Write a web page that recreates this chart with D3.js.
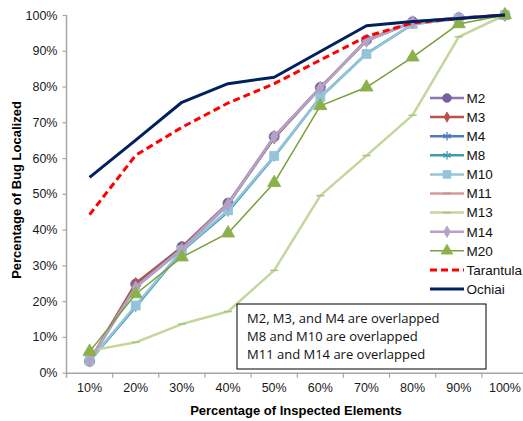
<!DOCTYPE html>
<html>
<head>
<meta charset="utf-8">
<script src="https://cdn.jsdelivr.net/npm/d3@7"></script>
<style>
  body { margin: 0; background: #fff; }
  text { font-family: "Liberation Sans", Arial, sans-serif; }
</style>
</head>
<body>
<div id="chart"></div>
<script>
// Categories on the x axis
const categories = ["10%", "20%", "30%", "40%", "50%", "60%", "70%", "80%", "90%", "100%"];

// Series values (percentage of bug localized)
const m2  = [3.2, 24.8, 35.2, 47.4, 66.0, 79.8, 93.0, 98.1, 99.2, 100];
const m3  = [3.4, 25.0, 35.0, 47.2, 65.6, 79.6, 92.8, 98.0, 99.1, 100];
const m4  = [3.3, 24.2, 34.8, 47.0, 65.8, 79.6, 93.0, 98.0, 99.2, 100];
const m8  = [3.3, 18.4, 34.0, 45.0, 60.4, 77.0, 89.2, 97.4, 99.0, 100];
const m10 = [3.4, 18.8, 34.2, 45.4, 60.6, 77.0, 89.1, 97.5, 99.0, 100];
const m11 = [3.4, 24.0, 34.6, 47.2, 66.0, 79.6, 93.0, 98.0, 99.1, 100];
const m13 = [6.1, 8.5, 13.6, 17.1, 28.6, 49.5, 60.7, 72.0, 93.9, 100];
const m14 = [3.4, 23.8, 34.4, 47.0, 66.0, 79.6, 92.8, 98.0, 99.1, 100];
const m20 = [5.9, 22.0, 32.3, 39.0, 53.1, 74.6, 79.8, 88.2, 97.5, 100];
const tarantula = [44.2, 60.8, 68.6, 75.4, 80.8, 87.4, 94.0, 97.8, 99.0, 100];
const ochiai    = [54.6, 65.0, 75.6, 80.8, 82.6, 89.8, 97.0, 98.2, 99.0, 100];

// Y tick values
const yTicks = [0, 10, 20, 30, 40, 50, 60, 70, 80, 90, 100];

// Note box lines
const notes = ["M2, M3, and M4 are overlapped", "M8 and M10 are overlapped", "M11 and M14 are overlapped"];

// series styling (drawn in this order, later on top)
const series = [
  {name: "M2",  values: m2,  line: "#8a77ad", marker: "circle",   mcolor: "#7a5f9e", width: 2.5, msize: 80},
  {name: "M3",  values: m3,  line: "#b8524f", marker: "diamond",  mcolor: "#b8524f", width: 2.5, msize: 40},
  {name: "M4",  values: m4,  line: "#4f7cb8", marker: "asterisk", mcolor: "#4f7cb8", width: 2.5, msize: 65},
  {name: "M8",  values: m8,  line: "#3f9ab2", marker: "asterisk", mcolor: "#3f9ab2", width: 2.5, msize: 65},
  {name: "M10", values: m10, line: "#93c4da", marker: "square",   mcolor: "#93c4da", width: 2.5, msize: 80},
  {name: "M11", values: m11, line: "#d99a98", marker: "dash",     mcolor: "#d08a88", width: 2.5, msize: 0},
  {name: "M13", values: m13, line: "#c3d69b", marker: "dash",     mcolor: "#a9c47a", width: 2.5, msize: 0},
  {name: "M14", values: m14, line: "#b3a2c7", marker: "diamond",  mcolor: "#b3a2c7", width: 2.5, msize: 50},
  {name: "M20", values: m20, line: "#77a03a", marker: "triangle", mcolor: "#8cb04a", width: 1.5, msize: 75},
  {name: "Tarantula", values: tarantula, line: "#ff0000", marker: "none", dash: "7,4", width: 3, msize: 0},
  {name: "Ochiai",    values: ochiai,    line: "#002060", marker: "none", width: 3, msize: 0}
];

const width = 523, height = 421;
const padding = {top: 15, right: -5, bottom: 48, left: 66.5};

const svg = d3.select("#chart").append("svg")
    .attr("width", width)
    .attr("height", height);

const xScale = d3.scaleBand()
    .domain(categories)
    .range([padding.left, width - padding.right]);

const yScale = d3.scaleLinear()
    .domain([0, 100])
    .range([height - padding.bottom - 0.3, padding.top]);

const cx = d => xScale(d) + xScale.bandwidth() / 2;
const axisColor = "#a6a6a6";

// Y axis
const yAxis = svg.append("g")
    .attr("transform", "translate(" + padding.left + ",0)")
    .call(d3.axisLeft(yScale).tickValues(yTicks).tickSize(4).tickPadding(5).tickFormat(d => d + "%"));
yAxis.select(".domain").attr("stroke", axisColor).attr("stroke-width", 1.5).attr("d", "M0," + padding.top + "V" + (yScale(0) + 5));
yAxis.selectAll(".tick line").attr("stroke", axisColor).attr("stroke-width", 1.2);
yAxis.selectAll(".tick text").attr("font-size", 12.5).attr("fill", "#1a1a1a")
    .style("font-family", "Liberation Sans, Arial, sans-serif");

// X axis line with ticks between categories
const xAxis = svg.append("g")
    .attr("transform", "translate(0," + yScale(0) + ")")
    .call(d3.axisBottom(xScale).tickSize(0).tickPadding(10));
xAxis.select(".domain").attr("stroke", axisColor).attr("stroke-width", 1.5);
xAxis.selectAll(".tick text").attr("font-size", 12.5).attr("fill", "#1a1a1a")
    .style("font-family", "Liberation Sans, Arial, sans-serif");
xAxis.selectAll(".sep")
    .data(categories.slice(1))
    .enter().append("line")
    .attr("class", "sep")
    .attr("x1", d => xScale(d)).attr("x2", d => xScale(d))
    .attr("y1", 0).attr("y2", 5)
    .attr("stroke", axisColor).attr("stroke-width", 1.2);

// Marker helper
function drawMarker(g, s, x, y, legend) {
  if (s.marker === "none") {
    return;
  }
  if (s.marker === "dash") {
    g.append("line")
      .attr("x1", x - 4).attr("x2", x + 4).attr("y1", y).attr("y2", y)
      .attr("stroke", s.mcolor).attr("stroke-width", 1.5);
    return;
  }
  let type = {circle: d3.symbolCircle, diamond: d3.symbolDiamond, square: d3.symbolSquare,
              triangle: d3.symbolTriangle, asterisk: d3.symbolAsterisk}[s.marker];
  const size = legend ? s.msize * 0.75 : s.msize;
  const p = g.append("path")
    .attr("d", d3.symbol().type(type).size(size)())
    .attr("transform", "translate(" + x + "," + y + ")");
  if (s.marker === "asterisk") {
    p.attr("fill", "none").attr("stroke", s.mcolor).attr("stroke-width", 1.3);
  } else {
    p.attr("fill", s.mcolor).attr("stroke", s.mcolor).attr("stroke-width", 0.8);
  }
}

// Lines and markers
const line = d3.line()
    .x((d, i) => cx(categories[i]))
    .y(d => yScale(d));

series.forEach(s => {
  const g = svg.append("g");
  g.append("path")
    .datum(s.values)
    .attr("d", line)
    .attr("fill", "none")
    .attr("stroke", s.line)
    .attr("stroke-width", s.width)
    .attr("stroke-dasharray", s.dash || null)
    .attr("stroke-linejoin", "round");
  s.values.forEach((v, i) => drawMarker(g, s, cx(categories[i]), yScale(v), false));
});

// Legend
const legend = svg.append("g").attr("transform", "translate(430,98)");
series.forEach((s, i) => {
  const g = legend.append("g").attr("transform", "translate(0," + (i * 19.1) + ")");
  g.append("line")
    .attr("x1", 0).attr("x2", 34).attr("y1", 0).attr("y2", 0)
    .attr("stroke", s.line)
    .attr("stroke-width", s.width)
    .attr("stroke-dasharray", s.dash || null);
  drawMarker(g, s, 17, 0, true);
  g.append("text")
    .attr("x", 36.5).attr("y", 0).attr("dy", "0.36em")
    .attr("font-size", 13.5).attr("fill", "#111")
    .text(s.name);
});

// Note box
const box = svg.append("g").attr("transform", "translate(237,304)");
box.append("rect")
  .attr("width", 249).attr("height", 65)
  .attr("fill", "#fff").attr("stroke", "#000").attr("stroke-width", 1);
box.selectAll(".note")
  .data(notes)
  .enter().append("text")
  .attr("class", "note")
  .attr("x", 10)
  .attr("y", (d, i) => 19 + i * 18)
  .attr("font-size", 13)
  .style("font-family", "Open Sans, sans-serif")
  .attr("fill", "#111")
  .text(d => d);

// Axis titles
svg.append("text")
  .attr("x", 296).attr("y", 415)
  .style("text-anchor", "middle")
  .attr("font-size", 13).attr("font-weight", "bold")
  .text("Percentage of Inspected Elements");

svg.append("text")
  .attr("transform", "rotate(-90)")
  .attr("x", -190).attr("y", 21)
  .style("text-anchor", "middle")
  .attr("font-size", 13).attr("font-weight", "bold")
  .text("Percentage of Bug Localized");
</script>
</body>
</html>
